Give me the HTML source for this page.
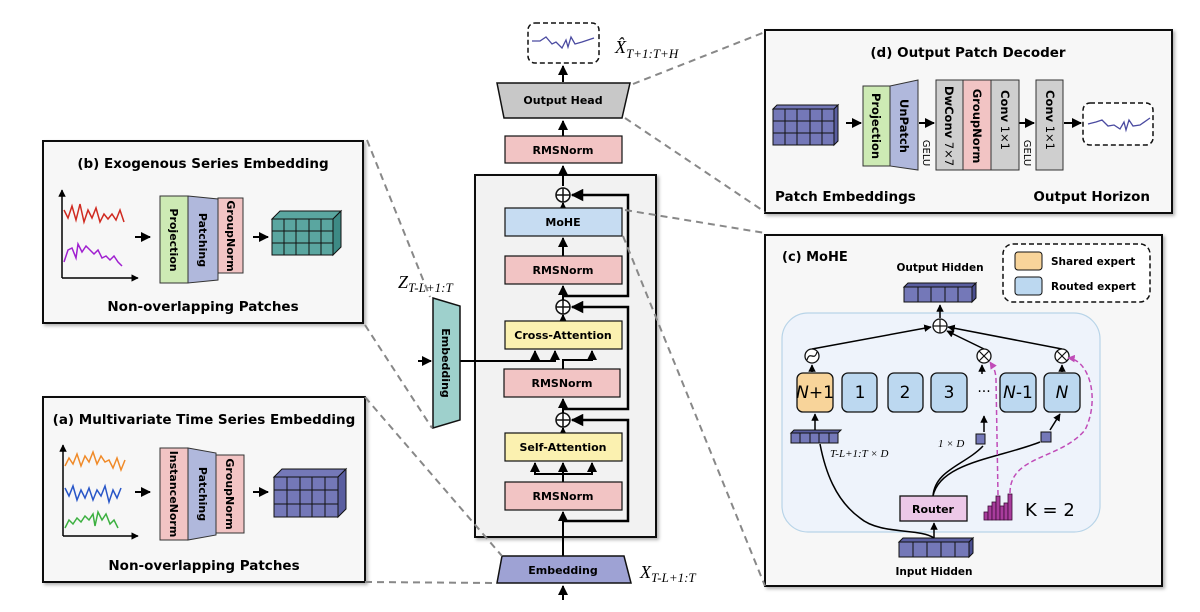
<!DOCTYPE html>
<html><head><meta charset="utf-8"><style>
body{margin:0;background:#fff}
svg{display:block}
text{font-family:"DejaVu Sans","Liberation Sans",sans-serif}
.b{font-weight:bold}
.m{font-family:"Liberation Serif",serif;font-style:italic}
</style></head><body>
<svg width="1200" height="612" viewBox="0 0 1200 612" xmlns="http://www.w3.org/2000/svg">
<defs>
<marker id="a" viewBox="0 0 10 10" refX="9" refY="5" markerWidth="5" markerHeight="5" orient="auto"><path d="M0,0L10,5L0,10z" fill="#000"/></marker>
<marker id="p" viewBox="0 0 10 10" refX="9" refY="5" markerWidth="5" markerHeight="5" orient="auto"><path d="M0,0L10,5L0,10z" fill="#c04cb8"/></marker>
<filter id="sh" x="-5%" y="-5%" width="110%" height="110%"><feDropShadow dx="2" dy="2" stdDeviation="1.5" flood-opacity="0.3"/></filter>
</defs>

<!-- Panel b -->
<rect x="43" y="141" width="320" height="182" fill="#f7f7f7" stroke="#111" stroke-width="2" filter="url(#sh)"/>
<text x="203" y="168" font-size="13.5" text-anchor="middle" class="b">(b) Exogenous Series Embedding</text>
<g stroke="#000" stroke-width="1.5" fill="none">
<line x1="62" y1="278" x2="62" y2="190" marker-end="url(#a)"/><line x1="62" y1="278" x2="138" y2="278" marker-end="url(#a)"/>
</g>
<polyline fill="none" stroke="#d02a20" stroke-width="1.5" points="64,210 68,218 72,206 76,220 80,204 84,222 88,210 92,218 96,208 100,222 104,214 108,219 112,214 116,220 120,210 124,222"/>
<polyline fill="none" stroke="#a020d0" stroke-width="1.5" points="64,262 68,250 72,248 76,258 78,244 82,252 86,246 90,250 94,254 98,250 102,258 106,256 110,260 114,256 118,262 122,266"/>
<line x1="135" y1="237" x2="150" y2="237" stroke="#000" stroke-width="2" marker-end="url(#a)"/>
<line x1="253" y1="237" x2="268" y2="237" stroke="#000" stroke-width="2" marker-end="url(#a)"/>
<rect x="160" y="196" width="28" height="87" fill="#cdeab4" stroke="#333"/>
<polygon points="188,196 218,199 218,280 188,283" fill="#b0b8dc" stroke="#333"/>
<rect x="218" y="198" width="25" height="75" fill="#f2c4c4" stroke="#333"/>
<g font-size="11" class="b" text-anchor="middle">
<text transform="translate(170,240) rotate(90)">Projection</text>
<text transform="translate(199,240) rotate(90)">Patching</text>
<text transform="translate(227,236) rotate(90)">GroupNorm</text>
</g>
<polygon points="272,219 280,211 341,211 333,219" fill="#5aa6a0" stroke="#111"/>
<polygon points="333,219 341,211 341,247 333,255" fill="#3d8a85" stroke="#111"/>
<rect x="272" y="219" width="61" height="36" fill="#5aa6a0" stroke="#111"/>
<g stroke="#111"><line x1="284" y1="219" x2="284" y2="255"/><line x1="296" y1="219" x2="296" y2="255"/><line x1="309" y1="219" x2="309" y2="255"/><line x1="321" y1="219" x2="321" y2="255"/><line x1="272" y1="231" x2="333" y2="231"/><line x1="272" y1="243" x2="333" y2="243"/></g>
<text x="203" y="311" font-size="13.5" text-anchor="middle" class="b">Non-overlapping Patches</text>

<!-- Panel a -->
<rect x="43" y="397" width="322" height="185" fill="#f7f7f7" stroke="#111" stroke-width="2" filter="url(#sh)"/>
<text x="204" y="424" font-size="13.5" text-anchor="middle" class="b">(a) Multivariate Time Series Embedding</text>
<g stroke="#000" stroke-width="1.5" fill="none">
<line x1="63" y1="536" x2="63" y2="445" marker-end="url(#a)"/><line x1="63" y1="536" x2="138" y2="536" marker-end="url(#a)"/>
</g>
<polyline fill="none" stroke="#f08a28" stroke-width="1.5" points="65,466 69,458 73,464 77,454 81,466 85,456 89,462 93,452 97,464 101,456 105,462 109,460 113,468 117,458 121,470 125,460"/>
<polyline fill="none" stroke="#2856c8" stroke-width="1.5" points="65,488 69,496 73,486 77,500 81,490 85,498 89,488 93,500 97,490 101,496 105,486 109,502 113,490 117,498 121,488"/>
<polyline fill="none" stroke="#3cb040" stroke-width="1.5" points="65,528 69,520 73,524 77,518 81,522 85,516 89,520 93,514 95,526 98,512 102,520 106,514 110,524 114,520 118,528"/>
<line x1="135" y1="492" x2="150" y2="492" stroke="#000" stroke-width="2" marker-end="url(#a)"/>
<line x1="253" y1="492" x2="268" y2="492" stroke="#000" stroke-width="2" marker-end="url(#a)"/>
<rect x="160" y="448" width="28" height="92" fill="#f2c4c4" stroke="#333"/>
<polygon points="188,448 216,453 216,535 188,540" fill="#b0b8dc" stroke="#333"/>
<rect x="216" y="455" width="28" height="78" fill="#f2c4c4" stroke="#333"/>
<g font-size="11" class="b" text-anchor="middle">
<text transform="translate(170,494) rotate(90)">InstanceNorm</text>
<text transform="translate(199,494) rotate(90)">Patching</text>
<text transform="translate(226,494) rotate(90)">GroupNorm</text>
</g>
<polygon points="274,477 282,469 346,469 338,477" fill="#7478b8" stroke="#111"/>
<polygon points="338,477 346,469 346,509 338,517" fill="#5a5ea0" stroke="#111"/>
<rect x="274" y="477" width="64" height="40" fill="#7478b8" stroke="#111"/>
<g stroke="#111"><line x1="287" y1="477" x2="287" y2="517"/><line x1="300" y1="477" x2="300" y2="517"/><line x1="312" y1="477" x2="312" y2="517"/><line x1="325" y1="477" x2="325" y2="517"/><line x1="274" y1="490" x2="338" y2="490"/><line x1="274" y1="504" x2="338" y2="504"/></g>
<text x="204" y="570" font-size="13.5" text-anchor="middle" class="b">Non-overlapping Patches</text>

<!-- Center column -->
<rect x="528" y="23" width="71" height="40" rx="7" fill="#fff" stroke="#111" stroke-width="1.5" stroke-dasharray="5,3"/>
<polyline fill="none" stroke="#4a4aa0" stroke-width="1.3" points="532,41 540,41 546,37 552,44 556,42 562,48 566,40 568,47 571,37 575,44 582,42 594,38"/>
<text x="615" y="53" font-size="18" class="m">X̂<tspan font-size="13" dy="5">T+1:T+H</tspan></text>
<line x1="563" y1="82" x2="563" y2="66" stroke="#000" stroke-width="2" marker-end="url(#a)"/>
<polygon points="497,83 630,83 622,118 504,118" fill="#c8c8c8" stroke="#111" stroke-width="1.5"/>
<text x="563" y="104" font-size="11" class="b" text-anchor="middle">Output Head</text>
<line x1="563" y1="136" x2="563" y2="121" stroke="#000" stroke-width="2" marker-end="url(#a)"/>
<rect x="505" y="136" width="117" height="27" fill="#f2c4c4" stroke="#111" stroke-width="1.2"/>
<text x="563" y="154" font-size="11" class="b" text-anchor="middle">RMSNorm</text>
<text x="631" y="190" font-size="16" class="b">B<tspan font-weight="normal">×</tspan></text>
<rect x="475" y="175" width="181" height="362" fill="#f2f2f2" stroke="#111" stroke-width="2" filter="url(#sh)"/>
<line x1="563" y1="186" x2="563" y2="166" stroke="#000" stroke-width="2" marker-end="url(#a)"/>
<g fill="none" stroke="#111" stroke-width="1.5">
<circle cx="563" cy="195" r="7" fill="#fff"/><line x1="556" y1="195" x2="570" y2="195"/><line x1="563" y1="188" x2="563" y2="202"/>
<circle cx="563" cy="307" r="7" fill="#fff"/><line x1="556" y1="307" x2="570" y2="307"/><line x1="563" y1="300" x2="563" y2="314"/>
<circle cx="563" cy="420" r="7" fill="#fff"/><line x1="556" y1="420" x2="570" y2="420"/><line x1="563" y1="413" x2="563" y2="427"/>
</g>
<g fill="none" stroke="#000" stroke-width="2.5">
<polyline points="563,296 628,296 628,195 572,195" marker-end="url(#a)"/>
<polyline points="563,409 628,409 628,307 572,307" marker-end="url(#a)"/>
<polyline points="563,521 628,521 628,420 572,420" marker-end="url(#a)"/>
</g>
<g stroke="#000" stroke-width="2" fill="none">
<line x1="563" y1="208" x2="563" y2="203" marker-end="url(#a)"/>
<line x1="563" y1="256" x2="563" y2="238" marker-end="url(#a)"/>
<line x1="563" y1="300" x2="563" y2="286" marker-end="url(#a)"/>
<line x1="563" y1="321" x2="563" y2="315" marker-end="url(#a)"/>
<line x1="563" y1="413" x2="563" y2="399" marker-end="url(#a)"/>
<line x1="563" y1="433" x2="563" y2="428" marker-end="url(#a)"/>
<line x1="563" y1="556" x2="563" y2="512" marker-end="url(#a)"/>
<line x1="563" y1="600" x2="563" y2="586" marker-end="url(#a)"/>
<line x1="563" y1="482" x2="563" y2="463" marker-end="url(#a)"/>
<polyline points="535,475 535,463" marker-end="url(#a)"/>
<polyline points="592,475 592,463" marker-end="url(#a)"/>
<line x1="535" y1="474" x2="592" y2="474"/>
<polyline points="563,369 563,360 592,360 592,351" marker-end="url(#a)"/>
<polyline points="460,361 555,361 555,351" marker-end="url(#a)"/>
<polyline points="535,361 535,351" marker-end="url(#a)"/>
<line x1="418" y1="361" x2="431" y2="361" marker-end="url(#a)"/>
</g>
<rect x="505" y="208" width="117" height="28" fill="#c6dcf2" stroke="#111" stroke-width="1.2"/>
<text x="563" y="226" font-size="11" class="b" text-anchor="middle">MoHE</text>
<rect x="505" y="256" width="117" height="28" fill="#f2c4c4" stroke="#111" stroke-width="1.2"/>
<text x="563" y="274" font-size="11" class="b" text-anchor="middle">RMSNorm</text>
<rect x="505" y="321" width="117" height="28" fill="#fbf1b0" stroke="#111" stroke-width="1.2"/>
<text x="563" y="339" font-size="11" class="b" text-anchor="middle">Cross-Attention</text>
<rect x="504" y="369" width="116" height="28" fill="#f2c4c4" stroke="#111" stroke-width="1.2"/>
<text x="562" y="387" font-size="11" class="b" text-anchor="middle">RMSNorm</text>
<rect x="505" y="433" width="117" height="28" fill="#fbf1b0" stroke="#111" stroke-width="1.2"/>
<text x="563" y="451" font-size="11" class="b" text-anchor="middle">Self-Attention</text>
<rect x="505" y="482" width="117" height="28" fill="#f2c4c4" stroke="#111" stroke-width="1.2"/>
<text x="563" y="500" font-size="11" class="b" text-anchor="middle">RMSNorm</text>
<polygon points="502,556 624,556 631,583 497,583" fill="#9ea2d4" stroke="#111" stroke-width="1.5"/>
<text x="563" y="574" font-size="11" class="b" text-anchor="middle">Embedding</text>
<text x="640" y="578" font-size="18" class="m">X<tspan font-size="13" dy="4">T-L+1:T</tspan></text>
<polygon points="433,298 460,306 460,420 433,428" fill="#9ed0cc" stroke="#111" stroke-width="1.5"/>
<text transform="translate(442,363) rotate(90)" font-size="11" class="b" text-anchor="middle">Embedding</text>
<text x="398" y="288" font-size="18" class="m">Z<tspan font-size="13" dy="4">T-L+1:T</tspan></text>

<!-- Panel d -->
<rect x="765" y="30" width="407" height="183" fill="#f7f7f7" stroke="#111" stroke-width="2" filter="url(#sh)"/>
<text x="968" y="57" font-size="13.5" text-anchor="middle" class="b">(d) Output Patch Decoder</text>
<polygon points="773,109 777,105 838,105 834,109" fill="#7478b8" stroke="#111"/>
<polygon points="834,109 838,105 838,141 834,145" fill="#5a5ea0" stroke="#111"/>
<rect x="773" y="109" width="61" height="36" fill="#7478b8" stroke="#111"/>
<g stroke="#111"><line x1="785" y1="109" x2="785" y2="145"/><line x1="797" y1="109" x2="797" y2="145"/><line x1="810" y1="109" x2="810" y2="145"/><line x1="822" y1="109" x2="822" y2="145"/><line x1="773" y1="121" x2="834" y2="121"/><line x1="773" y1="133" x2="834" y2="133"/></g>
<g stroke="#000" stroke-width="2"><line x1="846" y1="123" x2="861" y2="123" marker-end="url(#a)"/><line x1="919" y1="123" x2="934" y2="123" marker-end="url(#a)"/><line x1="1019" y1="123" x2="1034" y2="123" marker-end="url(#a)"/><line x1="1064" y1="123" x2="1081" y2="123" marker-end="url(#a)"/></g>
<rect x="863" y="86" width="27" height="80" fill="#cdeab4" stroke="#333"/>
<polygon points="890,86 918,80 918,170 890,166" fill="#b0b8dc" stroke="#333"/>
<rect x="936" y="80" width="27" height="90" fill="#cfcfcf" stroke="#333"/>
<rect x="963" y="80" width="28" height="90" fill="#f2c4c4" stroke="#333"/>
<rect x="991" y="80" width="28" height="90" fill="#cfcfcf" stroke="#333"/>
<rect x="1036" y="80" width="27" height="90" fill="#cfcfcf" stroke="#333"/>
<g font-size="11.5" text-anchor="middle">
<text class="b" transform="translate(872,126) rotate(90)">Projection</text>
<text class="b" transform="translate(900,126) rotate(90)">UnPatch</text>
<text transform="translate(923,153) rotate(90)" font-size="10">GELU</text>
<text transform="translate(945,126) rotate(90)"><tspan font-weight="bold">DwConv</tspan> 7×7</text>
<text class="b" transform="translate(973,126) rotate(90)">GroupNorm</text>
<text transform="translate(1001,120) rotate(90)"><tspan font-weight="bold">Conv</tspan> 1×1</text>
<text transform="translate(1024,153) rotate(90)" font-size="10">GELU</text>
<text transform="translate(1046,120) rotate(90)"><tspan font-weight="bold">Conv</tspan> 1×1</text>
</g>
<rect x="1083" y="103" width="70" height="42" rx="7" fill="#fff" stroke="#111" stroke-width="1.5" stroke-dasharray="5,3"/>
<polyline fill="none" stroke="#4a4aa0" stroke-width="1.3" points="1088,124 1096,122 1102,120 1108,126 1114,125 1120,129 1124,122 1126,130 1129,120 1133,126 1140,125 1150,118"/>
<text x="775" y="201" font-size="13.5" class="b">Patch Embeddings</text>
<text x="1150" y="201" font-size="13.5" class="b" text-anchor="end">Output Horizon</text>

<!-- Panel c -->
<rect x="765" y="235" width="397" height="351" fill="#f7f7f7" stroke="#111" stroke-width="2" filter="url(#sh)"/>
<text x="782" y="261" font-size="13" class="b">(c) MoHE</text>
<rect x="1003" y="244" width="147" height="58" rx="10" fill="#fff" stroke="#111" stroke-width="1.5" stroke-dasharray="5,3"/>
<rect x="1015" y="252" width="27" height="18" rx="3" fill="#f8d49a" stroke="#111"/>
<rect x="1015" y="277" width="27" height="18" rx="3" fill="#bcd8f0" stroke="#111"/>
<text x="1051" y="265" font-size="10.5" class="b">Shared expert</text>
<text x="1051" y="290" font-size="10.5" class="b">Routed expert</text>
<text x="940" y="271" font-size="10.5" class="b" text-anchor="middle">Output Hidden</text>
<rect x="782" y="313" width="318" height="219" rx="26" fill="#eef3fb" stroke="#b8d4e8" stroke-width="1.2"/>
<polygon points="904,287 908,283 976,283 972,287" fill="#5a5ea0" stroke="#111"/>
<polygon points="972,287 976,283 976,298 972,302" fill="#4a4e90" stroke="#111"/>
<rect x="904" y="287" width="68" height="15" fill="#7478b8" stroke="#111"/>
<g stroke="#111"><line x1="918" y1="287" x2="918" y2="302"/><line x1="931" y1="287" x2="931" y2="302"/><line x1="945" y1="287" x2="945" y2="302"/><line x1="958" y1="287" x2="958" y2="302"/></g>
<polygon points="899,542 903,538 973,538 969,542" fill="#5a5ea0" stroke="#111"/>
<polygon points="969,542 973,538 973,553 969,557" fill="#4a4e90" stroke="#111"/>
<rect x="899" y="542" width="70" height="15" fill="#7478b8" stroke="#111"/>
<g stroke="#111"><line x1="913" y1="542" x2="913" y2="557"/><line x1="927" y1="542" x2="927" y2="557"/><line x1="941" y1="542" x2="941" y2="557"/><line x1="955" y1="542" x2="955" y2="557"/></g>
<text x="934" y="575" font-size="10.5" class="b" text-anchor="middle">Input Hidden</text>
<polygon points="791,433 794,430 841,430 838,433" fill="#5a5ea0" stroke="#111"/>
<rect x="791" y="433" width="47" height="10" fill="#7478b8" stroke="#111"/>
<g stroke="#111"><line x1="800" y1="433" x2="800" y2="443"/><line x1="810" y1="433" x2="810" y2="443"/><line x1="819" y1="433" x2="819" y2="443"/><line x1="829" y1="433" x2="829" y2="443"/></g>
<rect x="976" y="434" width="9" height="10" fill="#7478b8" stroke="#111"/>
<rect x="1041" y="432" width="10" height="10" fill="#7478b8" stroke="#111"/>
<text x="830" y="457" font-size="11" class="m">T-L+1:T × D</text>
<text x="938" y="447" font-size="11" class="m">1 × D</text>
<g fill="none" stroke="#000" stroke-width="1.5">
<path d="M934,538 C920,528 880,535 860,518 C835,500 825,470 820,444"/>
<line x1="934" y1="538" x2="934" y2="523" marker-end="url(#a)"/>
<path d="M933,496 C935,470 965,465 983,446"/>
<path d="M933,496 C940,462 1000,458 1040,442"/>
<line x1="815" y1="430" x2="815" y2="414" marker-end="url(#a)"/>
<line x1="984" y1="432" x2="984" y2="416" marker-end="url(#a)"/>
<line x1="1050" y1="430" x2="1060" y2="414" marker-end="url(#a)"/>
<line x1="812" y1="372" x2="812" y2="365" marker-end="url(#a)"/>
<line x1="982" y1="374" x2="982" y2="365" marker-end="url(#a)"/>
<line x1="1062" y1="372" x2="1062" y2="365" marker-end="url(#a)"/>
<line x1="812" y1="349" x2="931" y2="327" marker-end="url(#a)"/>
<line x1="984" y1="349" x2="947" y2="331" marker-end="url(#a)"/>
<line x1="1062" y1="349" x2="948" y2="327" marker-end="url(#a)"/>
<line x1="940" y1="318" x2="940" y2="305" marker-end="url(#a)"/>
</g>
<g fill="#fff" stroke="#111" stroke-width="1.3">
<circle cx="940" cy="326" r="7"/><circle cx="812" cy="356" r="7"/><circle cx="984" cy="356" r="7"/><circle cx="1062" cy="356" r="7"/>
</g>
<g stroke="#111" stroke-width="1.2" fill="none">
<line x1="933" y1="326" x2="947" y2="326"/><line x1="940" y1="319" x2="940" y2="333"/>
<line x1="979" y1="351" x2="989" y2="361"/><line x1="989" y1="351" x2="979" y2="361"/>
<line x1="1057" y1="351" x2="1067" y2="361"/><line x1="1067" y1="351" x2="1057" y2="361"/>
<path d="M807,360 C810,350 814,362 817,352"/>
</g>
<rect x="797" y="373" width="36" height="39" rx="6" fill="#f8d49a" stroke="#111" stroke-width="1.3"/>
<rect x="842" y="373" width="35" height="39" rx="6" fill="#bcd8f0" stroke="#111" stroke-width="1.3"/>
<rect x="888" y="373" width="35" height="39" rx="6" fill="#bcd8f0" stroke="#111" stroke-width="1.3"/>
<rect x="931" y="373" width="36" height="39" rx="6" fill="#bcd8f0" stroke="#111" stroke-width="1.3"/>
<rect x="1000" y="373" width="36" height="39" rx="6" fill="#bcd8f0" stroke="#111" stroke-width="1.3"/>
<rect x="1044" y="373" width="36" height="39" rx="6" fill="#bcd8f0" stroke="#111" stroke-width="1.3"/>
<g font-family="Liberation Serif,serif" font-size="17" text-anchor="middle">
<text x="815" y="398"><tspan font-style="italic">N</tspan>+1</text>
<text x="860" y="398">1</text><text x="905" y="398">2</text><text x="949" y="398">3</text>
<text x="984" y="396" font-size="14">···</text>
<text x="1018" y="398"><tspan font-style="italic">N</tspan>-1</text>
<text x="1062" y="398" font-style="italic">N</text>
</g>
<rect x="900" y="496" width="67" height="25" fill="#ecc8e8" stroke="#111" stroke-width="1.3"/>
<text x="933" y="513" font-size="11" class="b" text-anchor="middle">Router</text>
<g fill="#a83c9c" stroke="#3a0a36" stroke-width="0.8">
<rect x="984" y="512" width="4" height="8"/><rect x="988" y="506" width="4" height="14"/><rect x="992" y="502" width="4" height="18"/><rect x="996" y="496" width="4" height="24"/><rect x="1000" y="506" width="4" height="14"/><rect x="1004" y="503" width="4" height="17"/><rect x="1008" y="494" width="4" height="26"/>
</g>
<text x="1025" y="516" font-size="18" font-family="Liberation Serif,serif">K = 2</text>
<g fill="none" stroke="#c04cb8" stroke-width="1.5" stroke-dasharray="5,3">
<path d="M998,495 L996,380 C996,370 992,365 990,362" marker-end="url(#p)"/>
<path d="M1010,493 C1010,455 1060,460 1085,430 C1100,400 1090,360 1068,358" marker-end="url(#p)"/>
</g>

<!-- grey dashed connectors (on top) -->
<g stroke="#888" stroke-width="2" stroke-dasharray="7,5" fill="none">
<line x1="367" y1="140" x2="430" y2="297"/>
<line x1="365" y1="325" x2="432" y2="428"/>
<line x1="365" y1="397" x2="502" y2="556"/>
<line x1="365" y1="582" x2="497" y2="583"/>
<line x1="633" y1="84" x2="765" y2="32"/>
<line x1="625" y1="118" x2="765" y2="212"/>
<line x1="625" y1="210" x2="765" y2="233"/>
<line x1="623" y1="236" x2="765" y2="586"/>
</g>
</svg>
</body></html>
